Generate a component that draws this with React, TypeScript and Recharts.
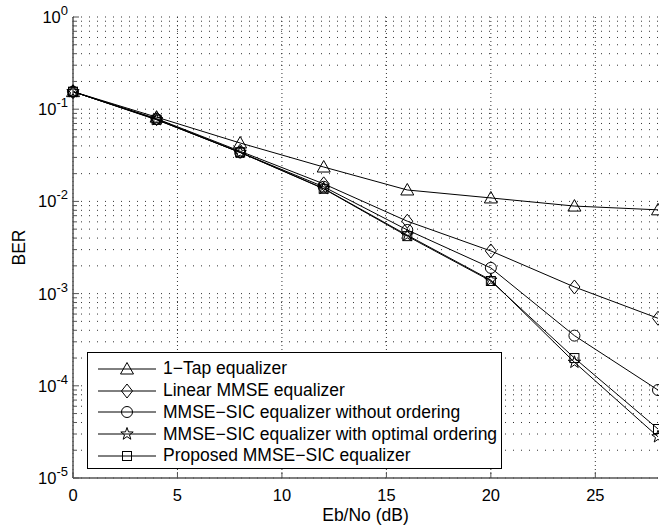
import { LineChart, Line, XAxis, YAxis, CartesianGrid, Legend } from "recharts";

const SNR_DB = [0, 4, 8, 12, 16, 20, 24, 28];
const ONE_TAP = [0.155, 0.082, 0.043, 0.0236, 0.0133, 0.0109, 0.0089, 0.0081];
const LINEAR_MMSE = [0.155, 0.079, 0.035, 0.0155, 0.0061, 0.0029, 0.00118, 0.00054];
const SIC_NO_ORDER = [0.155, 0.078, 0.034, 0.0144, 0.0049, 0.0019, 0.00035, 0.00009];
const SIC_OPT_ORDER = [0.155, 0.077, 0.034, 0.0138, 0.0043, 0.0014, 0.00018, 0.000028];
const PROPOSED = [0.155, 0.077, 0.034, 0.0137, 0.0042, 0.00137, 0.0002, 0.000034];

const X_TICKS = [0, 5, 10, 15, 20, 25];
const DECADES = [-5, -4, -3, -2, -1, 0];
const MANTISSAS = [1, 2, 3, 4, 5, 6, 7, 8, 9];

const FONT = "'Liberation Sans', Arial, sans-serif";
const AXIS = "#555";
const GRID = "#333";

// log grid / tick values: every 1..9 x 10^d up to 10^0
const Y_VALUES = DECADES.flatMap((d) =>
  d === 0 ? [1] : MANTISSAS.map((m) => Number((m * Math.pow(10, d)).toPrecision(3)))
);

type MarkerProps = { cx: number; cy: number };

function Triangle({ cx, cy }: MarkerProps) {
  return (
    <polygon
      points={`${cx},${cy - 6.5} ${cx - 6.5},${cy + 5} ${cx + 6.5},${cy + 5}`}
      fill="none"
      stroke="#000"
    />
  );
}

function Diamond({ cx, cy }: MarkerProps) {
  return (
    <polygon
      points={`${cx},${cy - 7} ${cx + 5.5},${cy} ${cx},${cy + 7} ${cx - 5.5},${cy}`}
      fill="none"
      stroke="#000"
    />
  );
}

function Circle({ cx, cy }: MarkerProps) {
  return <circle cx={cx} cy={cy} r={5.5} fill="none" stroke="#000" />;
}

function Star({ cx, cy }: MarkerProps) {
  const pts: string[] = [];
  for (let i = 0; i < 10; i++) {
    const r = i % 2 === 0 ? 6.5 : 2.6;
    const a = -Math.PI / 2 + (i * Math.PI) / 5;
    pts.push(`${cx + r * Math.cos(a)},${cy + r * Math.sin(a)}`);
  }
  return <polygon points={pts.join(" ")} fill="none" stroke="#000" />;
}

function Square({ cx, cy }: MarkerProps) {
  return <rect x={cx - 4.5} y={cy - 4.5} width={9} height={9} fill="none" stroke="#000" />;
}

const SERIES = [
  { key: "oneTap", name: "1\u2212Tap equalizer", values: ONE_TAP, Marker: Triangle },
  { key: "linear", name: "Linear MMSE equalizer", values: LINEAR_MMSE, Marker: Diamond },
  { key: "sicNo", name: "MMSE\u2212SIC equalizer without ordering", values: SIC_NO_ORDER, Marker: Circle },
  { key: "sicOpt", name: "MMSE\u2212SIC equalizer with optimal ordering", values: SIC_OPT_ORDER, Marker: Star },
  { key: "proposed", name: "Proposed MMSE\u2212SIC equalizer", values: PROPOSED, Marker: Square },
];

const data = SNR_DB.map((snr, i) => {
  const row: Record<string, number> = { snr };
  SERIES.forEach((s) => (row[s.key] = s.values[i]));
  return row;
});

function YTick({ x, y, payload }: any) {
  const lg = Math.log10(payload.value);
  const e = Math.round(lg);
  const major = Math.abs(lg - e) < 1e-6;
  return (
    <g>
      <line x1={x} x2={x + (major ? 6 : 4)} y1={y} y2={y} stroke={AXIS} />
      {major && (
        <text x={x - 5} y={y + 6} textAnchor="end" fontFamily={FONT} fontSize={16.5} fill="#000">
          10
          <tspan dy={-8} fontSize={13}>
            {e}
          </tspan>
        </text>
      )}
    </g>
  );
}

function XTick({ x, y, payload }: any) {
  return (
    <g>
      <line x1={x} x2={x} y1={y} y2={y - 6} stroke={AXIS} />
      <text x={x} y={y + 23} textAnchor="middle" fontFamily={FONT} fontSize={16.5} fill="#000">
        {payload.value}
      </text>
    </g>
  );
}

function TopTick({ x, y }: any) {
  return <line x1={x} x2={x} y1={y} y2={y + 6} stroke={AXIS} />;
}

function LegendBox({ payload }: any) {
  const order = SERIES.map((s) => s.key);
  const items = [...(payload || [])].sort(
    (a: any, b: any) => order.indexOf(a.dataKey) - order.indexOf(b.dataKey)
  );
  return (
    <div
      style={{
        width: 415,
        height: 117,
        boxSizing: "border-box",
        border: "1px solid #000",
        background: "#fff",
        paddingTop: 5,
        fontFamily: FONT,
        fontSize: 17.5,
      }}
    >
      {items.map((entry: any) => {
        const s = SERIES.find((k) => k.key === entry.dataKey)!;
        return (
          <div key={s.key} style={{ display: "flex", alignItems: "center", height: 21.75, whiteSpace: "nowrap" }}>
            <svg width={75} height={20} style={{ flex: "none" }}>
              <line x1={10} x2={68} y1={10} y2={10} stroke="#000" />
              <s.Marker cx={39} cy={10} />
            </svg>
            <span>{entry.value}</span>
          </div>
        );
      })}
    </div>
  );
}

export default function App() {
  return (
    <div style={{ width: 659, height: 526, background: "#fff" }}>
      <style>{"body{margin:0}"}</style>
      <LineChart width={659} height={526} data={data} margin={{ top: 17, right: 1, bottom: 0, left: 0 }}>
        <CartesianGrid
          horizontal
          vertical={false}
          horizontalValues={Y_VALUES}
          stroke={GRID}
          strokeDasharray="1 7"
        />
        <CartesianGrid
          horizontal={false}
          vertical
          verticalValues={X_TICKS}
          stroke={GRID}
          strokeDasharray="1 3"
        />
        <XAxis
          dataKey="snr"
          type="number"
          domain={[0, 28]}
          ticks={X_TICKS}
          height={48}
          tickSize={0}
          tickMargin={0}
          tickLine={false}
          axisLine={{ stroke: AXIS, strokeWidth: 1.5 }}
          tick={<XTick />}
          label={{
            content: ({ viewBox }: any) => (
              <text
                x={viewBox.x + viewBox.width / 2}
                y={viewBox.y + 43}
                textAnchor="middle"
                fontFamily={FONT}
                fontSize={17.5}
                fill="#000"
              >
                Eb/No (dB)
              </text>
            ),
          }}
        />
        <XAxis
          xAxisId="top"
          orientation="top"
          dataKey="snr"
          type="number"
          domain={[0, 28]}
          ticks={X_TICKS}
          height={0}
          tickSize={0}
          tickMargin={0}
          tickLine={false}
          axisLine={{ stroke: "#222", strokeWidth: 1.5 }}
          tick={<TopTick />}
        />
        <YAxis
          scale="log"
          type="number"
          domain={[1e-5, 1]}
          ticks={Y_VALUES}
          allowDataOverflow
          width={73}
          tickSize={0}
          tickMargin={0}
          tickLine={false}
          axisLine={{ stroke: AXIS, strokeWidth: 1.5 }}
          tick={<YTick />}
          interval={0}
          label={{
            content: ({ viewBox }: any) => {
              const lx = viewBox.x + 25;
              const ly = viewBox.y + viewBox.height / 2;
              return (
                <text
                  x={lx}
                  y={ly}
                  transform={`rotate(-90 ${lx} ${ly})`}
                  textAnchor="middle"
                  fontFamily={FONT}
                  fontSize={17.5}
                  fill="#000"
                >
                  BER
                </text>
              );
            },
          }}
        />
        <Legend
          layout="horizontal"
          verticalAlign="middle"
          align="center"
          wrapperStyle={{ left: 87, top: 352, width: 415, height: 117 }}
          content={<LegendBox />}
        />
        {SERIES.map((s) => (
          <Line
            key={s.key}
            dataKey={s.key}
            name={s.name}
            type="linear"
            stroke="#000"
            strokeWidth={1}
            isAnimationActive={false}
            dot={(p: any) => <s.Marker key={`${s.key}-${p.index}`} cx={p.cx} cy={p.cy} />}
            activeDot={false}
          />
        ))}
      </LineChart>
    </div>
  );
}
